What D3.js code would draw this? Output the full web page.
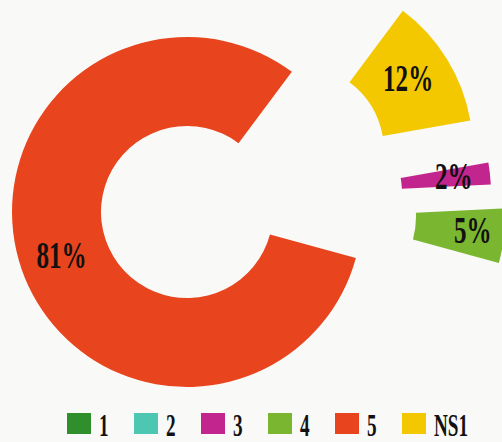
<!DOCTYPE html>
<html>
<head>
<meta charset="utf-8">
<script src="https://cdn.jsdelivr.net/npm/d3@7"></script>
<style>
  html, body { margin: 0; padding: 0; background: #f9f9f7; }
  svg { display: block; }
  .pct, .leg { font-family: "Liberation Serif", "DejaVu Serif", serif; font-weight: bold; fill: #111; }
</style>
</head>
<body>
<div id="chart"></div>
<script>
// Share of answers per category, in percent.
const categories = ["1", "2", "3", "4", "5", "NS1"];
const values = [0, 0, 2, 5, 81, 12];
const colors = ["#2f8f2a", "#4ec7b2", "#c2268e", "#7ab62f", "#e8441d", "#f4c800"];

const width = 502, height = 442;
const cx = 187, cy = 212, rOuter = 175, rInner = 86;
const startDeg = 80;

// The small slices are pulled away from the ring, each by its own shift.
const pull = { "3": [129, -19], "4": [143, 5], "NS1": [111, -61] };
// Where the percent label sits relative to the slice centroid.
const labelNudge = { "3": [8, -3], "4": [13, -1], "5": [-2, 0], "NS1": [-1, -5] };

const data = categories.map((c, i) => ({ cat: c, value: values[i], color: colors[i] }));

const pie = d3.pie().sort(null).value((d) => d.value)
  .startAngle(startDeg * Math.PI / 180)
  .endAngle(startDeg * Math.PI / 180 + 2 * Math.PI);
const arc = d3.arc().innerRadius(rInner).outerRadius(rOuter);

const svg = d3.select("#chart").append("svg")
  .attr("width", width).attr("height", height);

const g = svg.append("g").attr("transform", `translate(${cx},${cy})`);

const slices = g.selectAll("g.slice")
  .data(pie(data).filter((d) => d.data.value > 0))
  .join("g").attr("class", "slice")
  .attr("transform", (d) => {
    const p = pull[d.data.cat] || [0, 0];
    return `translate(${p[0]},${p[1]})`;
  });

slices.append("path").attr("d", arc).attr("fill", (d) => d.data.color);

slices.append("text").attr("class", "pct")
  .attr("transform", (d) => {
    const [x, y] = arc.centroid(d);
    const n = labelNudge[d.data.cat] || [0, 0];
    return `translate(${x + n[0]},${y + n[1]}) scale(0.66,1)`;
  })
  .attr("text-anchor", "middle").attr("dy", "0.35em")
  .style("font-size", "38px")
  .text((d) => `${d.data.value}%`);

// Legend row along the bottom.
const legX = d3.scalePoint().domain(categories).range([67, 402]);
const leg = svg.append("g").selectAll("g").data(data).join("g")
  .attr("transform", (d) => `translate(${legX(d.cat)},413)`);
leg.append("rect").attr("width", 24).attr("height", 21).attr("fill", (d) => d.color);
leg.append("text").attr("class", "leg")
  .attr("transform", "translate(32,23) scale(0.6,1)")
  .style("font-size", "32px")
  .text((d) => d.cat);
</script>
</body>
</html>
